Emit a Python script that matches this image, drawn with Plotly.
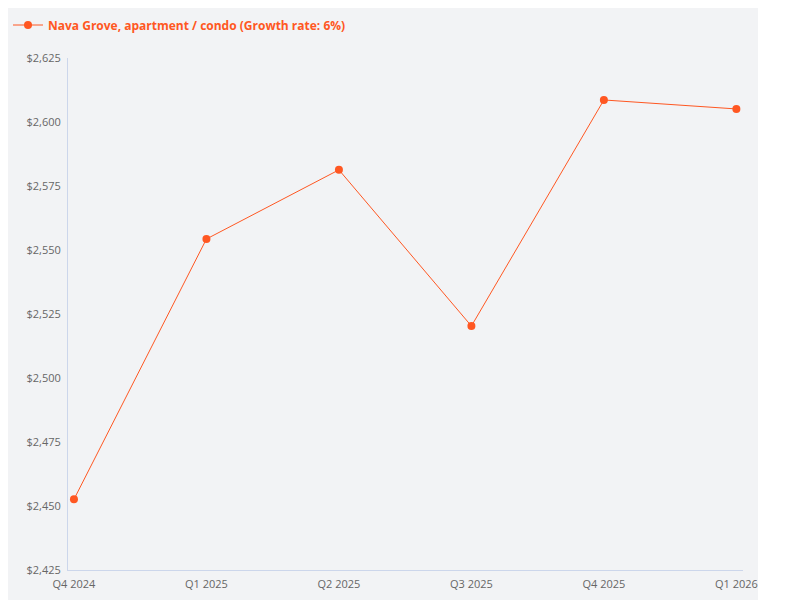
import plotly.graph_objects as go

categories = ["Q4 2024", "Q1 2025", "Q2 2025", "Q3 2025", "Q4 2025", "Q1 2026"]
values = [2452.6, 2554.3, 2581.3, 2520.3, 2608.6, 2605.1]
ytick_vals = [2425, 2450, 2475, 2500, 2525, 2550, 2575, 2600, 2625]
ytick_text = ["$" + format(v, ",") for v in ytick_vals]
color = "#ff5722"

L, R, T, B = 60, 65, 50, 38
pw = 800 - L - R
ph = 600 - T - B
fig = go.Figure(go.Scatter(
    x=list(range(len(categories))), y=values, mode="lines+markers",
    name="Nava Grove, apartment / condo (Growth rate: 6%)",
    line=dict(color=color, width=1), marker=dict(color=color, size=8)))
fig.add_shape(type="rect", xref="paper", yref="paper", layer="below",
              x0=-L / pw, x1=(750 - L) / pw, y0=-B / ph, y1=(600 - B) / ph,
              fillcolor="#f2f3f5", line=dict(width=0))
fig.update_layout(
    width=800, height=600, margin=dict(l=L, r=R, t=T, b=B, autoexpand=False),
    paper_bgcolor="white", plot_bgcolor="#f2f3f5",
    font=dict(family="Open Sans", size=11, color="#666"),
    showlegend=True,
    legend=dict(x=-L / pw + 0.0, y=1 + 33 / ph, xanchor="left", yanchor="middle",
                orientation="h", bgcolor="rgba(0,0,0,0)", itemwidth=30,
                font=dict(color=color, size=12, family="Open Sans", weight="bold")),
    xaxis=dict(tickvals=list(range(len(categories))), ticktext=categories,
               range=[-0.045, 5.05], showgrid=False, zeroline=False,
               showline=True, linecolor="#ccd6eb", ticks="", tickfont=dict(size=11),
               ticklabelstandoff=4),
    yaxis=dict(range=[2425, 2625], tickvals=ytick_vals, ticktext=ytick_text,
               showgrid=False, zeroline=False, showline=True, linecolor="#ccd6eb",
               ticks="", tickfont=dict(size=11), ticklabelstandoff=4),
)
fig.write_html("out.html")
